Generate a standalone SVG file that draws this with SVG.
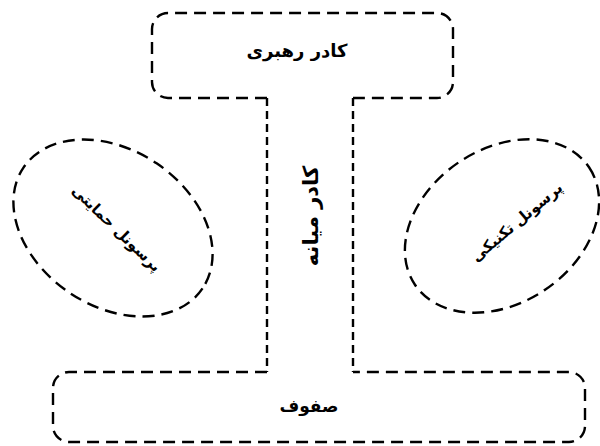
<svg xmlns="http://www.w3.org/2000/svg" width="600" height="446" viewBox="0 0 600 446">
<style>
.o{fill:none;stroke:#000;stroke-width:2.4;stroke-dasharray:12,7}
.v{fill:none;stroke:#000;stroke-width:2.4;stroke-dasharray:8,5}
.t{font-family:"DejaVu Sans",sans-serif;font-weight:bold;fill:#000;text-anchor:middle;direction:rtl}
</style>
<rect width="600" height="446" fill="#fff"/>
<g id="leadership">
<path class="o" d="M267,98 H168 A16,16 0 0 1 152,82 V29 A16,16 0 0 1 168,13 H437 A16,16 0 0 1 453,29 V82 A16,16 0 0 1 437,98 H353"/>
<text class="t" x="297" y="57" font-size="18">کادر رهبری</text>
</g>
<g id="middle">
<path class="v" d="M267,98 V372 M353,98 V372"/>
<text class="t" font-size="21" transform="translate(318,216) rotate(-90)">کادر میانه</text>
</g>
<g id="operating">
<path class="o" d="M267,372 H69 A16,16 0 0 0 53,388 V426 A16,16 0 0 0 69,442 H569 A16,16 0 0 0 585,426 V388 A16,16 0 0 0 569,372 H353"/>
<text class="t" x="309" y="412" font-size="17">صفوف</text>
</g>
<g id="support">
<ellipse class="o" cx="113" cy="228" rx="108" ry="78" transform="rotate(34 113 228)"/>
<text class="t" font-size="15" transform="translate(113,232) rotate(44)">پرسونل حمایتی</text>
</g>
<g id="technical">
<ellipse class="o" cx="502" cy="226" rx="105" ry="77" transform="rotate(-34 502 226)"/>
<text class="t" font-size="15" transform="translate(520,226) rotate(-40)">پرسونل تکنیکی</text>
</g>
<g id="connectors"/>
</svg>
